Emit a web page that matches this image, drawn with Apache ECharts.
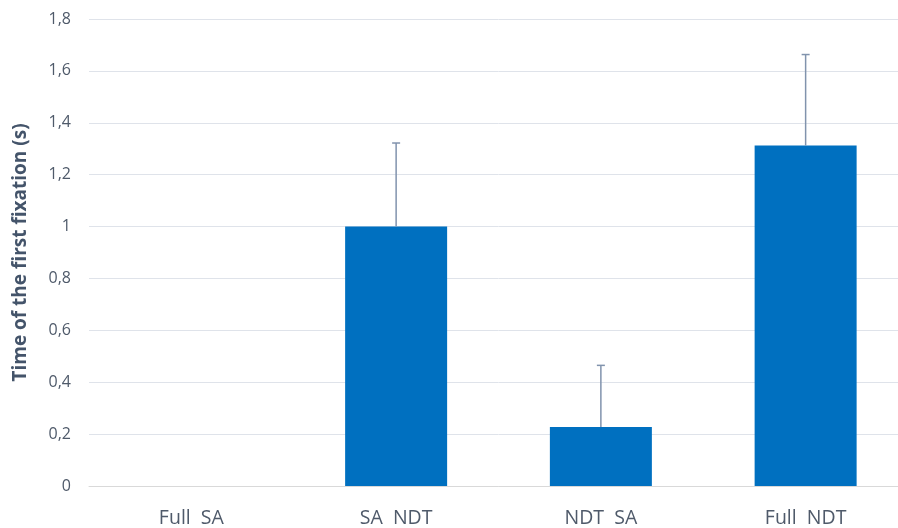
<!DOCTYPE html>
<html>
<head>
<meta charset="utf-8">
<script src="https://cdn.jsdelivr.net/npm/echarts@6/dist/echarts.min.js"></script>
<style>
html,body{margin:0;padding:0;background:#fff;overflow:hidden;width:898px;height:528px;}
#c{width:908px;height:528px;}
</style>
</head>
<body>
<div id="c"></div>
<script>
const categories = ['Full  SA', 'SA  NDT', 'NDT  SA', 'Full  NDT'];
const meanValues = [0, 1.00, 0.227, 1.312];
const upperValues = [0, 1.322, 0.465, 1.663];
const yTicks = ['0', '0,2', '0,4', '0,6', '0,8', '1', '1,2', '1,4', '1,6', '1,8'];

const chart = echarts.init(document.getElementById('c'));
const fontFamily = '"Open Sans", "Noto Sans", sans-serif';

chart.setOption({
  animation: false,
  backgroundColor: '#ffffff',
  grid: { left: 89, right: 0, top: 19, bottom: 41, containLabel: false },
  xAxis: {
    type: 'category',
    data: categories,
    axisTick: { show: false },
    axisLine: { show: true, lineStyle: { color: '#d9d9d9', width: 1 } },
    axisLabel: { color: '#4f5a6a', fontSize: 19.5, fontFamily: fontFamily, margin: 22 }
  },
  yAxis: {
    type: 'value',
    min: 0, max: 1.8, interval: 0.2,
    name: 'Time of the first fixation (s)',
    nameLocation: 'middle',
    nameGap: 59,
    nameRotate: 90,
    nameTextStyle: { color: '#44546a', fontSize: 19, fontWeight: 'bold', fontFamily: fontFamily },
    axisLine: { show: false },
    axisTick: { show: false },
    splitLine: { lineStyle: { color: '#dfe3ea', width: 1 } },
    axisLabel: {
      color: '#4f5a6a', fontSize: 16, fontFamily: fontFamily, margin: 18,
      formatter: function (v) { return yTicks[Math.round(v / 0.2)]; }
    }
  },
  series: [
    {
      type: 'bar',
      data: meanValues,
      barWidth: 102,
      itemStyle: { color: '#0070c0' }
    },
    {
      type: 'custom',
      data: categories.map(function (c, i) { return [i, meanValues[i], upperValues[i]]; }),
      z: 10,
      renderItem: function (params, api) {
        const lo = api.value(1), hi = api.value(2);
        if (hi <= lo) return null;
        const p1 = api.coord([api.value(0), lo]);
        const p2 = api.coord([api.value(0), hi]);
        const style = { stroke: '#8193ad', lineWidth: 1.5 };
        return {
          type: 'group',
          children: [
            { type: 'line', shape: { x1: p1[0], y1: p1[1], x2: p2[0], y2: p2[1] }, style: style },
            { type: 'line', shape: { x1: p2[0] - 4, y1: p2[1], x2: p2[0] + 4, y2: p2[1] }, style: style }
          ]
        };
      }
    }
  ]
});
</script>
</body>
</html>
